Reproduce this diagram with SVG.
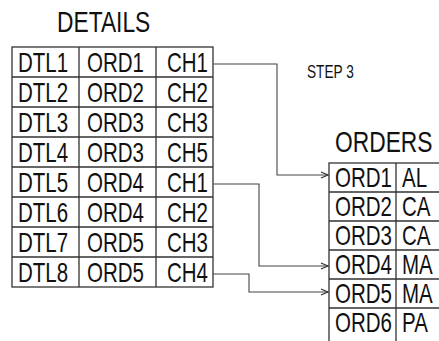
<svg xmlns="http://www.w3.org/2000/svg" width="439" height="341" viewBox="0 0 439 341">
<style>
text{font-family:"Liberation Sans",Arial,sans-serif;fill:#111}
.cell{font-size:27px}
.title{font-size:30px}
.step{font-size:18px}
.grid{fill:none;stroke:#333;stroke-width:1.3}
.conn{fill:none;stroke:#444;stroke-width:1.1}
</style>
<defs>
<marker id="arr" markerWidth="10" markerHeight="8" refX="8" refY="4" orient="auto" markerUnits="userSpaceOnUse">
<path d="M1,1 L8,4 L1,7" fill="none" stroke="#333" stroke-width="1.2"/>
</marker>
</defs>
<rect width="439" height="341" fill="#fff"/>
<g id="details">
<text class="title" transform="translate(57,32) scale(0.76,1)">DETAILS</text>
<rect class="grid" x="12" y="47" width="201" height="240"/>
<path class="grid" d="M79,47V287M156,47V287M12,77H213M12,107H213M12,137H213M12,167H213M12,197H213M12,227H213M12,257H213"/>
<g class="cell">
<text class="cell" transform="translate(18,72) scale(0.76,1)">DTL1</text>
<text class="cell" transform="translate(87,72) scale(0.76,1)">ORD1</text>
<text class="cell" transform="translate(167,72) scale(0.76,1)">CH1</text>
<text class="cell" transform="translate(18,102) scale(0.76,1)">DTL2</text>
<text class="cell" transform="translate(87,102) scale(0.76,1)">ORD2</text>
<text class="cell" transform="translate(167,102) scale(0.76,1)">CH2</text>
<text class="cell" transform="translate(18,132) scale(0.76,1)">DTL3</text>
<text class="cell" transform="translate(87,132) scale(0.76,1)">ORD3</text>
<text class="cell" transform="translate(167,132) scale(0.76,1)">CH3</text>
<text class="cell" transform="translate(18,162) scale(0.76,1)">DTL4</text>
<text class="cell" transform="translate(87,162) scale(0.76,1)">ORD3</text>
<text class="cell" transform="translate(167,162) scale(0.76,1)">CH5</text>
<text class="cell" transform="translate(18,192) scale(0.76,1)">DTL5</text>
<text class="cell" transform="translate(87,192) scale(0.76,1)">ORD4</text>
<text class="cell" transform="translate(167,192) scale(0.76,1)">CH1</text>
<text class="cell" transform="translate(18,222) scale(0.76,1)">DTL6</text>
<text class="cell" transform="translate(87,222) scale(0.76,1)">ORD4</text>
<text class="cell" transform="translate(167,222) scale(0.76,1)">CH2</text>
<text class="cell" transform="translate(18,252) scale(0.76,1)">DTL7</text>
<text class="cell" transform="translate(87,252) scale(0.76,1)">ORD5</text>
<text class="cell" transform="translate(167,252) scale(0.76,1)">CH3</text>
<text class="cell" transform="translate(18,282) scale(0.76,1)">DTL8</text>
<text class="cell" transform="translate(87,282) scale(0.76,1)">ORD5</text>
<text class="cell" transform="translate(167,282) scale(0.76,1)">CH4</text>
</g>
</g>
<g id="orders">
<text class="title" transform="translate(335,152) scale(0.76,1)">ORDERS</text>
<rect class="grid" x="329" y="163" width="130" height="190"/>
<path class="grid" d="M396,163V353M329,192H459M329,221H459M329,250H459M329,279H459M329,308H459"/>
<text class="cell" transform="translate(335,187) scale(0.76,1)">ORD1</text>
<text class="cell" transform="translate(402,187) scale(0.76,1)">AL</text>
<text class="cell" transform="translate(335,216) scale(0.76,1)">ORD2</text>
<text class="cell" transform="translate(402,216) scale(0.76,1)">CA</text>
<text class="cell" transform="translate(335,245) scale(0.76,1)">ORD3</text>
<text class="cell" transform="translate(402,245) scale(0.76,1)">CA</text>
<text class="cell" transform="translate(335,274) scale(0.76,1)">ORD4</text>
<text class="cell" transform="translate(402,274) scale(0.76,1)">MA</text>
<text class="cell" transform="translate(335,303) scale(0.76,1)">ORD5</text>
<text class="cell" transform="translate(402,303) scale(0.76,1)">MA</text>
<text class="cell" transform="translate(335,332) scale(0.76,1)">ORD6</text>
<text class="cell" transform="translate(402,332) scale(0.76,1)">PA</text>
</g>
<g id="step3">
<text class="step" transform="translate(307,78) scale(0.76,1)">STEP 3</text>
</g>
<g id="connectors">
<path class="conn" d="M213,64H277V175H328" marker-end="url(#arr)"/>
<path class="conn" d="M213,184H259V266H328" marker-end="url(#arr)"/>
<path class="conn" d="M213,274H249V292H328" marker-end="url(#arr)"/>
</g>
</svg>
